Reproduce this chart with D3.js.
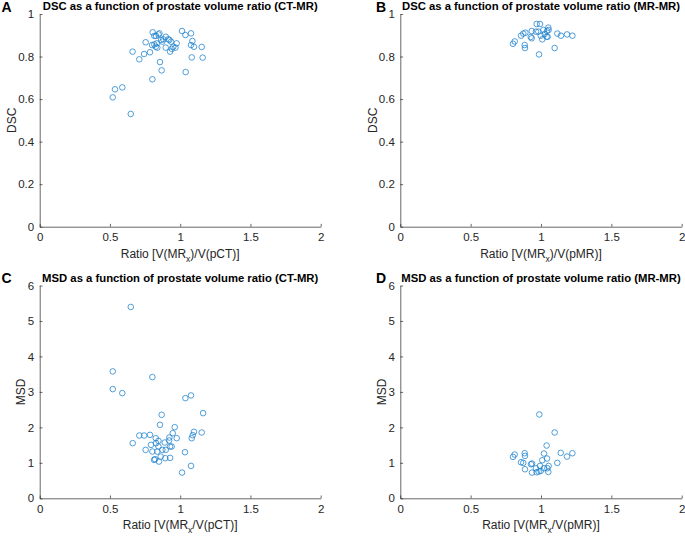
<!DOCTYPE html>
<html><head><meta charset="utf-8">
<script src="https://cdn.jsdelivr.net/npm/d3@7"></script>
<style>body{margin:0;background:#fff} text{font-family:"Liberation Sans",Arial,sans-serif}</style>
</head><body><svg id="c" width="685" height="536"></svg>
<script>
const xTicks=[0,0.5,1,1.5,2];
const dscTicks=[0,0.2,0.4,0.6,0.8,1];
const msdTicks=[0,1,2,3,4,5,6];

const ratioA=[0.520,0.536,0.588,0.648,0.661,0.709,0.743,0.754,0.785,0.800,0.802,0.804,0.816,0.816,0.826,0.828,0.833,0.837,0.845,0.852,0.856,0.864,0.868,0.873,0.880,0.897,0.897,0.916,0.923,0.928,0.935,0.940,0.951,0.966,0.975,1.013,1.037,1.039,1.077,1.077,1.082,1.087,1.098,1.153,1.160];
const dscA=[0.608,0.646,0.655,0.530,0.823,0.787,0.812,0.867,0.820,0.854,0.693,0.914,0.857,0.897,0.846,0.897,0.862,0.842,0.904,0.909,0.774,0.878,0.735,0.870,0.881,0.893,0.842,0.881,0.878,0.823,0.870,0.836,0.846,0.842,0.862,0.920,0.901,0.727,0.909,0.854,0.796,0.873,0.846,0.845,0.795];

const ratioB=[0.801,0.813,0.858,0.874,0.889,0.884,0.886,0.934,0.927,0.934,0.969,0.993,0.964,0.981,0.986,0.998,1.009,1.017,1.026,1.040,1.047,1.052,1.054,1.043,1.097,1.116,1.142,1.185,1.223];
const dscB=[0.860,0.871,0.898,0.908,0.912,0.854,0.840,0.920,0.892,0.886,0.953,0.953,0.917,0.917,0.810,0.898,0.881,0.925,0.906,0.893,0.893,0.936,0.925,0.920,0.840,0.908,0.898,0.904,0.898];

const ratioC=[0.648,0.520,0.520,0.588,0.802,0.662,0.709,0.743,0.754,0.785,0.792,0.802,0.814,0.821,0.826,0.828,0.837,0.845,0.845,0.849,0.856,0.861,0.868,0.873,0.890,0.894,0.897,0.921,0.923,0.928,0.928,0.939,0.947,0.961,0.975,1.013,1.034,1.037,1.077,1.077,1.082,1.089,1.098,1.153,1.163];
const msdC=[5.395,3.578,3.079,2.966,3.418,1.554,1.770,1.770,1.365,1.789,1.507,1.318,1.083,1.102,1.695,1.554,1.318,1.460,1.620,1.036,2.072,1.177,2.354,1.365,1.573,1.130,1.365,1.629,1.714,1.139,1.460,1.460,1.836,2.006,1.695,0.725,1.299,2.825,2.900,0.913,1.695,1.780,1.874,1.855,2.401];

const ratioD=[0.801,0.813,0.858,0.874,0.884,0.886,0.886,0.929,0.936,0.936,0.964,0.969,0.983,0.988,0.993,0.998,1.009,1.021,1.021,1.040,1.043,1.045,1.054,1.052,1.097,1.116,1.140,1.185,1.223];
const msdD=[1.168,1.234,1.017,0.998,1.271,1.196,0.819,0.960,0.979,0.725,0.847,0.734,0.753,2.363,0.913,0.772,1.073,1.262,0.847,1.488,1.121,0.847,0.913,0.744,1.855,0.998,1.281,1.177,1.271];

const panels=[
 {letter:"A",title:"DSC as a function of prostate volume ratio (CT-MR)",xl:["Ratio [V(MR","x",")/V(pCT)]"],yl:"DSC",xs:ratioA,ys:dscA,yDom:[0,1],yT:dscTicks,L:39.7,R:320.7,T:14,B:226.7,ylx:12},
 {letter:"B",title:"DSC as a function of prostate volume ratio (MR-MR)",xl:["Ratio [V(MR","x",")/V(pMR)]"],yl:"DSC",xs:ratioB,ys:dscB,yDom:[0,1],yT:dscTicks,L:400.3,R:681.7,T:14,B:226.7,ylx:372.8},
 {letter:"C",title:"MSD as a function of prostate volume ratio (CT-MR)",xl:["Ratio [V(MR","x","/V(pCT)]"],yl:"MSD",xs:ratioC,ys:msdC,yDom:[0,6],yT:msdTicks,L:39.7,R:320.7,T:285.5,B:498.3,ylx:21},
 {letter:"D",title:"MSD as a function of prostate volume ratio (MR-MR)",xl:["Ratio [V(MR","x","/V(pMR)]"],yl:"MSD",xs:ratioD,ys:msdD,yDom:[0,6],yT:msdTicks,L:400.3,R:681.7,T:285.5,B:498.3,ylx:381.7}
];

const svg=d3.select("#c");
const TXT="#262626";
panels.forEach(p=>{
  const x=d3.scaleLinear().domain([0,2]).range([p.L,p.R]);
  const y=d3.scaleLinear().domain(p.yDom).range([p.B,p.T]);
  const g=svg.append("g");
  const fmt=d=>String(d);
  const xa=g.append("g").attr("transform",`translate(0,${p.B})`)
    .call(d3.axisBottom(x).tickValues(xTicks).tickFormat(fmt).tickSizeInner(-2.8).tickSizeOuter(0).tickPadding(6));
  const ya=g.append("g").attr("transform",`translate(${p.L},0)`)
    .call(d3.axisLeft(y).tickValues(p.yT).tickFormat(fmt).tickSizeInner(-2.8).tickSizeOuter(0).tickPadding(5.5));
  [xa,ya].forEach(a=>{
    a.select(".domain").attr("stroke",TXT).attr("stroke-width",0.7);
    a.selectAll(".tick line").attr("stroke",TXT).attr("stroke-width",0.7);
    a.selectAll(".tick text").attr("fill",TXT).style("font-size","11.5px");
  });
  xa.selectAll(".tick text").attr("dy","0.72em");
  g.append("g").selectAll("circle").data(p.xs.map((v,i)=>[v,p.ys[i]])).join("circle")
    .attr("cx",d=>x(d[0])).attr("cy",d=>y(d[1])).attr("r",2.8)
    .attr("fill","none").attr("stroke","#1a7fcc").attr("stroke-width",0.75);
  g.append("text").attr("x",(p.L+p.R)/2).attr("y",p.T-4).attr("text-anchor","middle")
    .style("font-size","11.3px").style("font-weight","bold").attr("fill","#000").text(p.title);
  g.append("text").attr("x",p.L<100?1.5:376).attr("y",p.T-2.5)
    .style("font-size","14px").style("font-weight","bold").attr("fill","#000").text(p.letter);
  const xl=g.append("text").attr("x",(p.L+p.R)/2).attr("y",p.B+30.8).attr("text-anchor","middle")
    .style("font-size","12px").attr("fill",TXT);
  xl.append("tspan").text(p.xl[0]);
  xl.append("tspan").attr("dy",4).style("font-size","8.5px").text(p.xl[1]);
  xl.append("tspan").attr("dy",-4).text(p.xl[2]);
  g.append("text").attr("transform",`translate(${p.ylx+4},${(p.T+p.B)/2}) rotate(-90)`)
    .attr("text-anchor","middle").style("font-size","12px").attr("fill",TXT).text(p.yl);
});
</script></body></html>
